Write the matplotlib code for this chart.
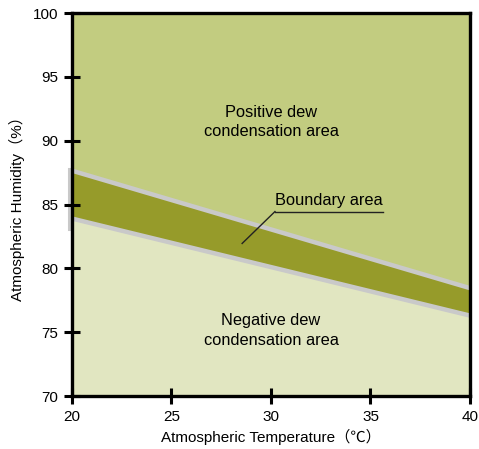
import matplotlib.pyplot as plt
import matplotlib.transforms as mtransforms

# data
temps = [20, 40]
boundary_upper = [87.65, 78.45]
boundary_lower = [83.9, 76.3]
x_ticks = [20, 25, 30, 35, 40]
y_ticks = [70, 75, 80, 85, 90, 95, 100]

c_upper = '#c2cc80'
c_band = '#969b2a'
c_lower = '#e1e6c1'
c_gray = '#c9c9c9'

plt.rcParams['font.family'] = ['Liberation Sans', 'Noto Sans CJK JP', 'DejaVu Sans']

fig = plt.figure(figsize=(4.79, 4.49), dpi=100)
ax = fig.add_axes([0.1503, 0.118, 0.8309, 0.853])

ax.fill_between(temps, 70, boundary_lower, color=c_lower, lw=0, zorder=1)
ax.fill_between(temps, boundary_lower, boundary_upper, color=c_band, lw=0, zorder=1)
ax.fill_between(temps, boundary_upper, 100, color=c_upper, lw=0, zorder=1)
ax.plot(temps, boundary_upper, color=c_gray, lw=3.2, solid_capstyle='butt', zorder=2)
ax.plot(temps, boundary_lower, color=c_gray, lw=3.2, solid_capstyle='butt', zorder=2)

# small gray strip left of the axis at the band
shift = mtransforms.offset_copy(ax.transData, fig=fig, x=-3, y=0, units='dots')
ax.plot([20, 20], [83.1, 87.8], color=c_gray, lw=2.2, transform=shift,
        clip_on=False, zorder=0)

ax.set_xlim(20, 40)
ax.set_ylim(70, 100)
ax.set_xticks(x_ticks)
ax.set_yticks(y_ticks)
ax.tick_params(direction='inout', length=11.5, width=2.2, labelsize=11, pad=4)
for s in ax.spines.values():
    s.set_linewidth(2.4)
    s.set_zorder(5)

ax.text(30, 91.45, 'Positive dew\ncondensation area', ha='center', va='center',
        fontsize=11.8, linespacing=1.38)
ax.text(30, 75.15, 'Negative dew\ncondensation area', ha='center', va='center',
        fontsize=11.8, linespacing=1.38)

ax.text(32.9, 85.3, 'Boundary area', ha='center', va='center', fontsize=11.8)
ax.plot([30.2, 35.65], [84.45, 84.45], color='#222222', lw=1, zorder=3)
ax.plot([28.55, 30.2], [81.95, 84.45], color='#222222', lw=1, zorder=3)

ax.set_xlabel('Atmospheric Temperature（℃）', fontsize=11, labelpad=4)
ax.set_ylabel('Atmospheric Humidity（%）', fontsize=11, labelpad=6)

fig.savefig('out.png', dpi=100)
